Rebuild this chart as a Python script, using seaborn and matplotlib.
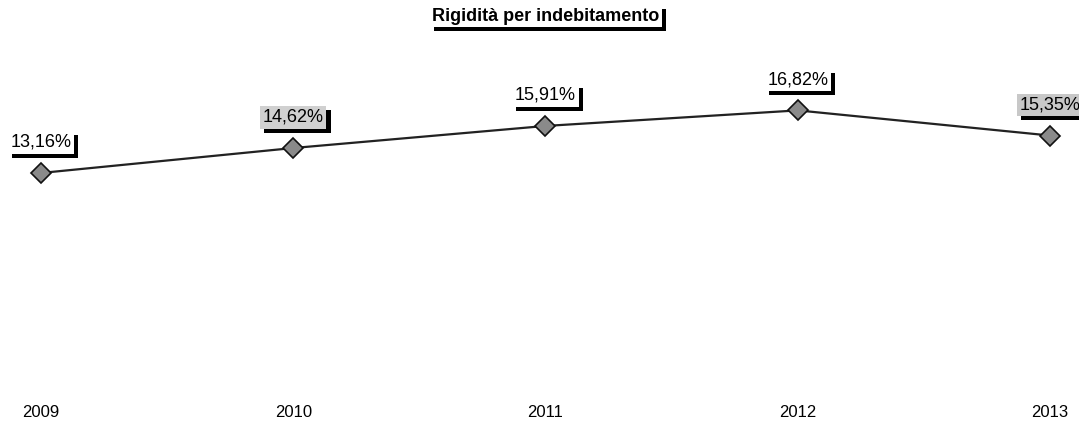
import matplotlib.pyplot as plt
import matplotlib.patheffects as pe
import pandas as pd
import seaborn as sns

years = [2009, 2010, 2011, 2012, 2013]
values = [13.16, 14.62, 15.91, 16.82, 15.35]
labels = ['13,16%', '14,62%', '15,91%', '16,82%', '15,35%']
label_fill = ['white', '#d0d0d0', 'white', 'white', '#c8c8c8']

df = pd.DataFrame({'anno': years, 'valore': values})

sns.set_style('white')
plt.rcParams['font.family'] = ['Liberation Sans', 'DejaVu Sans']
plt.rcParams['text.color'] = 'black'
plt.rcParams['xtick.color'] = 'black'

fig = plt.figure(figsize=(10.79, 4.24), dpi=100)
ax = fig.add_axes([0, 0.0613, 1, 0.8066])

sns.lineplot(data=df, x='anno', y='valore', ax=ax, color='#222222', linewidth=1.6,
             marker='D', markersize=10, markerfacecolor='#8a8a8a',
             markeredgecolor='#111111', markeredgewidth=1.2, clip_on=False)

shadow = [pe.withSimplePatchShadow(offset=(3, -3), shadow_rgbFace='black', alpha=1)]

for x, y, lab, fc in zip(years, values, labels, label_fill):
    t = ax.annotate(lab, (x, y), xytext=(0, 22), textcoords='offset points',
                    ha='center', va='center', fontsize=13, color='black',
                    bbox=dict(boxstyle='square,pad=0.15', fc=fc, ec='none'))
    t.get_bbox_patch().set_path_effects(shadow)

title = fig.text(0.506, 0.962, 'Rigidità per indebitamento', ha='center', va='center',
                 fontsize=13, fontweight='bold', color='black',
                 bbox=dict(boxstyle='square,pad=0.15', fc='white', ec='none'))
title.get_bbox_patch().set_path_effects(shadow)

ax.set_xlim(2009 - 0.1625, 2013 + 0.115)
ax.set_ylim(0, 20)
ax.set_xticks(years)
ax.set_xticklabels([str(y) for y in years], fontsize=12)
ax.set_yticks([])
ax.set_xlabel('')
ax.set_ylabel('')
ax.tick_params(axis='x', length=0, pad=5)
for s in ax.spines.values():
    s.set_visible(False)

plt.savefig('out.png', dpi=100)
